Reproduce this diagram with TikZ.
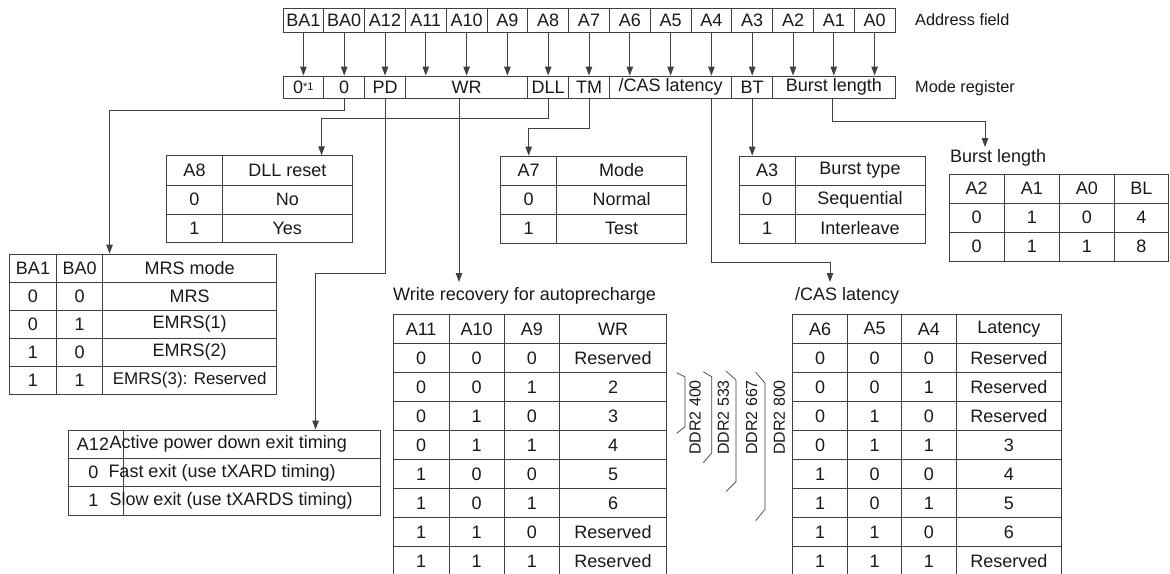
\documentclass[tikz,border=0pt]{standalone}
\usepackage{fontspec}
\setmainfont{Liberation Sans}
\usetikzlibrary{arrows.meta}
\tikzset{
  ln/.style={draw=black!75, line width=0.9pt},
  arr/.style={ln, -{Triangle[length=9pt,width=6.5pt]}},
  cell/.style={draw=black!75, line width=0.9pt, inner sep=0pt, text=black!90},
  lbl/.style={inner sep=0pt, text=black!90, anchor=west},
  dtxt/.style={inner sep=0pt, text=black!90, rotate=90, font=\fontsize{16}{18}\selectfont},
  brk/.style={draw=black!75, line width=0.7pt},
}
% one table row: #1 prefix, #2 top y, #3 bottom y, #4 list xleft/xright/text
\newcommand\tabrow[4]{%
  \foreach \xa/\xb/\ct [count=\k] in {#4} {%
    \node[cell, minimum width={(\xb-\xa)*1pt}, minimum height={(#3-#2)*1pt}]
      (#1-\k) at ({(\xa+\xb)/2},{(#2+#3)/2}) {\ct};
  }}
% mode register cell: #1 name, #2 first column, #3 number of columns, #4 text
\newcommand\mcell[4]{%
  \node[cell, minimum width={40.8pt*#3}, minimum height=22pt]
    (#1) at ({283+40.8*(#2+#3/2)},87) {#4};}
\begin{document}
\begin{tikzpicture}[x=1pt, y=-1pt, font=\fontsize{18}{21}\selectfont]
\useasboundingbox (0,0) rectangle (1170,573);

% ---- address field ----
\foreach \n [count=\i from 0] in {BA1,BA0,A12,A11,A10,A9,A8,A7,A6,A5,A4,A3,A2,A1,A0}
  \node[cell, minimum width=40.8pt, minimum height=24pt] (a\i) at ({283+40.8*(\i+0.5)},20) {\n};
\node[lbl, font=\fontsize{16.3}{19}\selectfont] (aflab) at (915,20) {Address field};

% ---- mode register ----
\mcell{mz1}{0}{1}{0{\fontsize{11}{11}\selectfont\raisebox{3pt}{*1}}}
\mcell{mz0}{1}{1}{0}
\mcell{mpd}{2}{1}{PD}
\mcell{mwr}{3}{3}{WR}
\mcell{mdll}{6}{1}{DLL}
\mcell{mtm}{7}{1}{TM}
\mcell{mcas}{8}{3}{/CAS latency}
\mcell{mbt}{11}{1}{BT}
\mcell{mbl}{12}{3}{Burst length}
\node[lbl, font=\fontsize{16.3}{19}\selectfont] (mrlab) at (915,88) {Mode register};

\foreach \i in {0,...,14}
  \draw[arr] (a\i.south) -- (a\i.south |- mpd.north);

% ---- A8 / DLL reset ----
\tabrow{dll1}{155.7}{185}{166.7/222.3/A8, 222.3/352.3/DLL reset}
\tabrow{dll2}{185}{214}{166.7/222.3/0, 222.3/352.3/No}
\tabrow{dll3}{214}{242.7}{166.7/222.3/1, 222.3/352.3/Yes}

% ---- A7 / Mode ----
\tabrow{tm1}{156}{185}{500.7/556.7/A7, 556.7/686.7/Mode}
\tabrow{tm2}{185}{214}{500.7/556.7/0, 556.7/686.7/Normal}
\tabrow{tm3}{214}{243}{500.7/556.7/1, 556.7/686.7/Test}

% ---- A3 / Burst type ----
\tabrow{bt1}{156}{185}{739.3/795/A3, 795/925/Burst type}
\tabrow{bt2}{185}{214}{739.3/795/0, 795/925/Sequential}
\tabrow{bt3}{214}{243}{739.3/795/1, 795/925/Interleave}

% ---- Burst length ----
\node[lbl] (bllab) at (950,158) {Burst length};
\tabrow{bl1}{174}{203}{949/1004.3/A2, 1004.3/1059.3/A1, 1059.3/1114.3/A0, 1114.3/1168.5/BL}
\tabrow{bl2}{203}{232.3}{949/1004.3/0, 1004.3/1059.3/1, 1059.3/1114.3/0, 1114.3/1168.5/4}
\tabrow{bl3}{232.3}{261}{949/1004.3/0, 1004.3/1059.3/1, 1059.3/1114.3/1, 1114.3/1168.5/8}

% ---- MRS mode ----
\tabrow{mrs1}{254}{282.3}{9.3/56.7/BA1, 56.7/102.7/BA0, 102.7/276.7/MRS mode}
\tabrow{mrs2}{282.3}{310}{9.3/56.7/0, 56.7/102.7/0, 102.7/276.7/MRS}
\tabrow{mrs3}{310}{338.3}{9.3/56.7/0, 56.7/102.7/1, 102.7/276.7/EMRS(1)}
\tabrow{mrs4}{338.3}{366}{9.3/56.7/1, 56.7/102.7/0, 102.7/276.7/EMRS(2)}
\tabrow{mrs5}{366}{394}{9.3/56.7/1, 56.7/102.7/1, 102.7/276.7/{\fontsize{17}{20}\selectfont EMRS(3): Reserved}}

% ---- A12 / power down ----
\tabrow{pd1}{430}{458.3}{68.3/123.3/, 123.3/380/}
\tabrow{pd2}{458.3}{486.7}{68.3/123.3/, 123.3/380/}
\tabrow{pd3}{486.7}{515}{68.3/123.3/, 123.3/380/}
\node[inner sep=0pt, text=black!90] (pdt1a) at (93,444.2) {A12};
\node[lbl] (pdt1b) at (109.5,444.2) {Active power down exit timing};
\node[inner sep=0pt, text=black!90] (pdt2a) at (93.3,472.5) {0};
\node[lbl] (pdt2b) at (108.3,472.5) {Fast exit (use tXARD timing)};
\node[inner sep=0pt, text=black!90] (pdt3a) at (93.3,500.8) {1};
\node[lbl] (pdt3b) at (109.3,500.8) {Slow exit (use tXARDS timing)};

% ---- Write recovery ----
\node[lbl] (wrlab) at (393,296) {Write recovery for autoprecharge};
\foreach \r/\ya/\yb/\ca/\cb/\cc/\cd in {
  1/314.3/343.35/A11/A10/A9/WR,
  2/343.35/372.4/0/0/0/Reserved,
  3/372.4/401.45/0/0/1/2,
  4/401.45/430.5/0/1/0/3,
  5/430.5/459.55/0/1/1/4,
  6/459.55/488.6/1/0/0/5,
  7/488.6/517.65/1/0/1/6,
  8/517.65/546.7/1/1/0/Reserved,
  9/546.7/575.75/1/1/1/Reserved}
{
  \tabrow{wr\r}{\ya}{\yb}{393.3/449/\ca, 449/504.3/\cb, 504.3/559.3/\cc, 559.3/666.7/\cd}
}

% ---- /CAS latency ----
\node[lbl] (caslab) at (795,296) {/CAS latency};
\foreach \r/\ya/\yb/\ca/\cb/\cc/\cd in {
  1/314.3/343.35/A6/A5/A4/Latency,
  2/343.35/372.4/0/0/0/Reserved,
  3/372.4/401.45/0/0/1/Reserved,
  4/401.45/430.5/0/1/0/Reserved,
  5/430.5/459.55/0/1/1/3,
  6/459.55/488.6/1/0/0/4,
  7/488.6/517.65/1/0/1/5,
  8/517.65/546.7/1/1/0/6,
  9/546.7/575.75/1/1/1/Reserved}
{
  \tabrow{cas\r}{\ya}{\yb}{792.7/847.3/\ca, 847.3/901.7/\cb, 901.7/956/\cc, 956/1061.7/\cd}
}

% ---- DDR2 brackets ----
\draw[brk] (676.7,372.7) -- (685,377) -- (685,426.7) -- (676.7,433.3);
\draw[brk] (703.3,371.7) -- (711.7,376.7) -- (711.7,453) -- (703.3,462.7);
\draw[brk] (726,371) -- (736,380) -- (736,481.7) -- (726,491.7);
\draw[brk] (755.7,372.3) -- (765,383) -- (765,509.3) -- (755.7,520.7);
\node[dtxt] (d400) at (695,417.5) {DDR2 400};
\node[dtxt] (d533) at (723.3,417.5) {DDR2 533};
\node[dtxt] (d667) at (751.7,417.5) {DDR2 667};
\node[dtxt] (d800) at (779.3,417.5) {DDR2 800};

% ---- connectors ----
\coordinate (wrtip) at (459,282);
\coordinate (castip) at (830,282);
\coordinate (bltip) at (985,147);
\draw[arr] (mz0.south) -- ++(0,12) -| ([xshift=7.3pt]mrs1-3.north west);
\draw[arr] (mpd.south) -- ++(0,174.7) -| ([xshift=192.7pt]pd1-2.north west);
\draw[arr] ([xshift=-7.6pt]mwr.south) -- (wrtip);
\draw[arr] (mdll.south) -- ++(0,20) -| ([xshift=99.7pt]dll1-2.north west);
\draw[arr] (mtm.south) -- ++(0,29.7) -| (tm1-1.north);
\draw[arr] ([xshift=41pt]mcas.south) -- ++(0,164) -| (castip);
\draw[arr] (mbt.south) -- (mbt.south |- bt1-1.north);
\draw[arr] ([xshift=-1.5pt]mbl.south) -- ++(0,22.7) -| (bltip);
\end{tikzpicture}
\end{document}
